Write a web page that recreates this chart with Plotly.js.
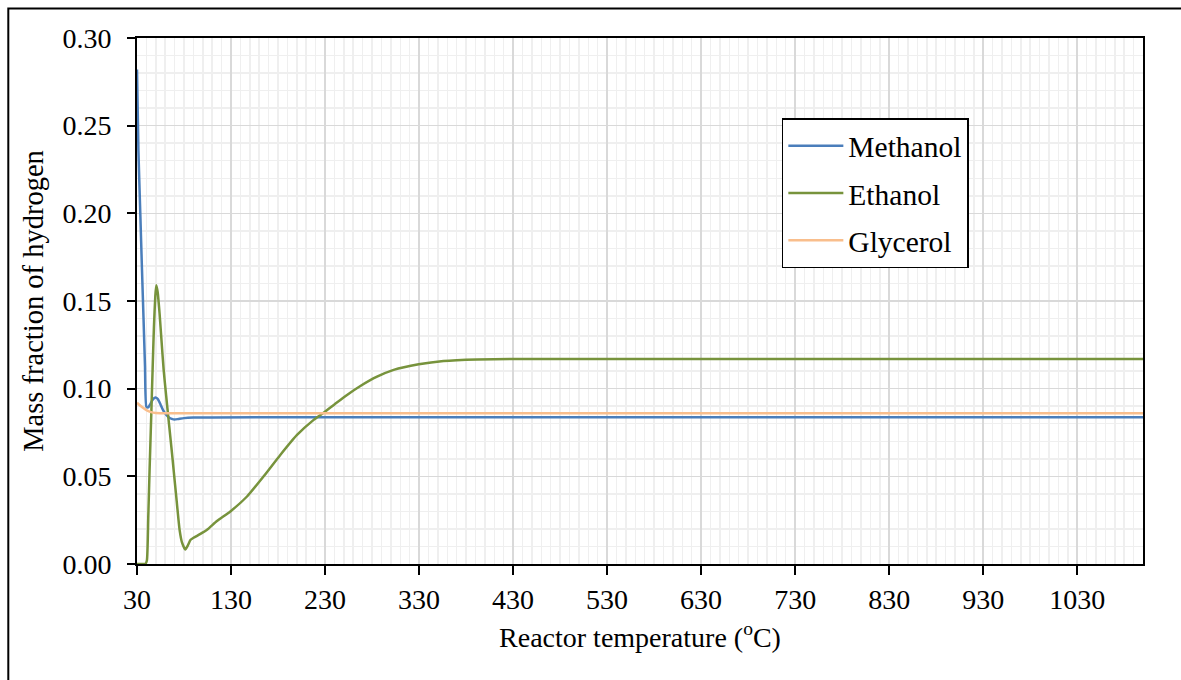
<!DOCTYPE html>
<html>
<head>
<meta charset="utf-8">
<script src="https://cdn.plot.ly/plotly-3.0.1.min.js"></script>
<style>html,body{margin:0;padding:0;background:#fff;}#chart{width:1181px;height:680px;}</style>
</head>
<body>
<div id="chart"></div>
<script>
// Reactor temperature (°C) and mass fraction of hydrogen
const methanolT = [30, 31.5, 33.5, 35.3, 37, 38.5, 40, 42, 44, 46.5, 49.5, 52, 55, 58, 61, 64, 67, 70, 74, 80, 90, 110, 200, 400, 700, 1100];
const methanolV = [0.282, 0.236, 0.200, 0.168, 0.139, 0.113, 0.0897, 0.0893, 0.091, 0.0935, 0.0949, 0.0942, 0.091, 0.0875, 0.0852, 0.0836, 0.0828, 0.0824, 0.0827, 0.0832, 0.0835, 0.0836, 0.0837, 0.0837, 0.0837, 0.0837];

const ethanolT = [30, 35, 38.8, 40.5, 42, 43.4, 45, 46.6, 48, 49.5, 50.5, 52, 54, 56, 58.3, 61, 64, 66.5, 68.9, 72, 75.3, 78, 81.4, 84, 87, 90.2, 97, 104.5, 115, 129.3, 147, 164.7, 182.4, 200.2, 217.9, 228.5, 240, 253.4, 267.6, 285.3, 303, 329.6, 356, 391.7, 427, 500, 700, 900, 1100];
const ethanolV = [0, 0, 0, 0.002, 0.027, 0.054, 0.082, 0.111, 0.135, 0.153, 0.159, 0.155, 0.143, 0.128, 0.111, 0.096, 0.080, 0.067, 0.054, 0.037, 0.0195, 0.012, 0.0082, 0.0105, 0.0138, 0.0150, 0.017, 0.0195, 0.0245, 0.030, 0.0385, 0.050, 0.0622, 0.0736, 0.0822, 0.0863, 0.091, 0.0964, 0.1015, 0.1068, 0.1107, 0.1139, 0.1158, 0.1167, 0.1169, 0.1169, 0.1169, 0.1169, 0.1169];

const glycerolT = [30, 33, 36, 40, 45, 50, 55, 70, 1100];
const glycerolV = [0.092, 0.0905, 0.0892, 0.0878, 0.0866, 0.0861, 0.0860, 0.0860, 0.0860];

const seriesNames = ["Methanol", "Ethanol", "Glycerol"];
const seriesColors = ["#4a7ebb", "#77933c", "#f9be8c"];
const xTickVals = [30, 130, 230, 330, 430, 530, 630, 730, 830, 930, 1030];
const yTickVals = [0, 0.05, 0.10, 0.15, 0.20, 0.25, 0.30];

const FONT = "'Liberation Serif', 'Times New Roman', serif";
const xs = [methanolT, ethanolT, glycerolT];
const ys = [methanolV, ethanolV, glycerolV];

const traces = seriesNames.map((n, i) => ({
  x: xs[i], y: ys[i], name: n, type: 'scatter', mode: 'lines',
  line: {color: seriesColors[i], width: 2.5, shape: 'spline', smoothing: 0.5},
  legendgroup: 'g' + i
}));

const layout = {
  width: 1181, height: 680,
  margin: {l: 136.7, r: 38.3, t: 37.5, b: 115.7},
  paper_bgcolor: '#ffffff', plot_bgcolor: '#ffffff',
  font: {family: FONT, size: 28, color: '#000'},
  showlegend: true,
  legend: {
    x: 0.641, y: 0.847, xanchor: 'left', yanchor: 'top',
    bgcolor: '#ffffff', bordercolor: '#000', borderwidth: 1.5,
    font: {family: FONT, size: 29.5, color: '#000'},
    tracegroupgap: 6, traceorder: 'grouped', itemwidth: 55
  },
  xaxis: {
    range: [30, 1100], tickvals: xTickVals, ticktext: xTickVals.map(String),
    showline: true, linecolor: '#000', linewidth: 2, mirror: true,
    ticks: 'outside', ticklen: 9, tickwidth: 2, tickcolor: '#000',
    showgrid: true, gridcolor: '#d9d9d9', gridwidth: 1.5,
    minor: {dtick: 10, tick0: 30, showgrid: true, gridcolor: '#efefef', gridwidth: 1.5, ticks: ''},
    zeroline: false, ticklabelstandoff: 0,
    tickfont: {family: FONT, size: 28, color: '#000'},
    title: {text: 'Reactor temperature (<sup>o</sup>C)', font: {family: FONT, size: 28, color: '#000'}, standoff: 14}
  },
  yaxis: {
    range: [0, 0.30], tickvals: yTickVals, ticktext: yTickVals.map(v => v.toFixed(2)),
    showline: true, linecolor: '#000', linewidth: 2, mirror: true,
    ticks: 'outside', ticklen: 8, tickwidth: 2, tickcolor: '#000',
    showgrid: true, gridcolor: '#d9d9d9', gridwidth: 1.5,
    minor: {dtick: 0.01, tick0: 0, showgrid: true, gridcolor: '#efefef', gridwidth: 1.5, ticks: ''},
    zeroline: false, ticklabelstandoff: 10,
    tickfont: {family: FONT, size: 28, color: '#000'},
    title: {text: 'Mass fraction of hydrogen', font: {family: FONT, size: 28.5, color: '#000'}, standoff: 10}
  },
  shapes: [{
    type: 'rect', xref: 'paper', yref: 'paper',
    x0: (8 - 136.7) / 1006, x1: 1.06, y0: -0.3, y1: (564.3 - 8) / 526.8,
    line: {color: '#000', width: 2}, fillcolor: 'rgba(0,0,0,0)', layer: 'below'
  }]
};

Plotly.newPlot('chart', traces, layout, {displayModeBar: false, staticPlot: true});
</script>
</body>
</html>
